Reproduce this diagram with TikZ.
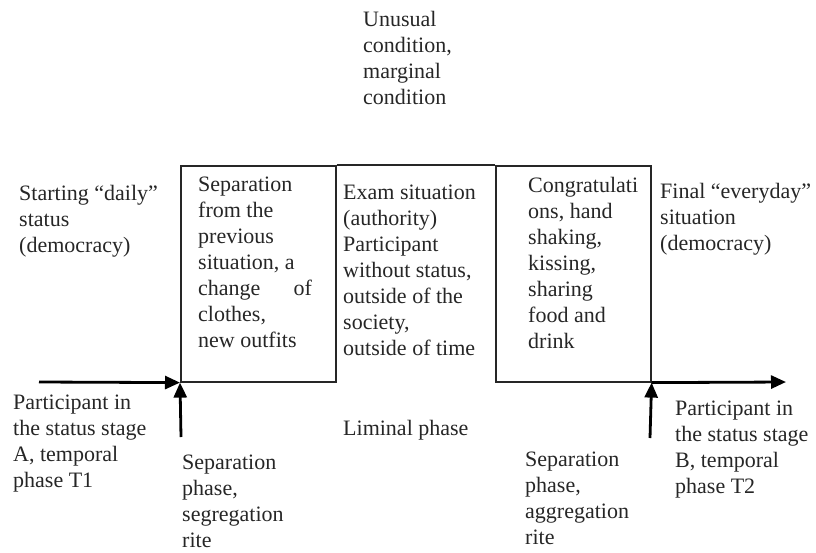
\documentclass[tikz,border=0pt]{standalone}
\usepackage{fontspec}
\setmainfont{Liberation Serif}
\usetikzlibrary{arrows.meta}
\begin{document}
\begin{tikzpicture}[x=1pt,y=-1pt,
  txt/.style={anchor=north west,inner sep=0pt,align=left,text=black!85,
    font=\fontsize{22}{26}\selectfont},
  phasebox/.style={draw=black!85,line width=1.6pt,minimum width=155pt,minimum height=216pt,inner sep=0pt},
  bigarrow/.style={draw=black,line width=2.8pt,-{Triangle[length=15pt,width=13pt]}}]
\useasboundingbox (0,0) rectangle (816,552);
% boxes
\node[phasebox,anchor=north west] (b1) at (180,165) {};
\node[phasebox,anchor=north west] (b3) at (495,165) {};
\draw[black!85,line width=1.6pt] (b1.north east) -- (b3.north west);
% arrow ends
\coordinate (lstart) at (39,382);
\coordinate (rend) at (786,382);
\coordinate (lbot) at (181,437);
\coordinate (rbot) at (650,438);
\draw[bigarrow] (lstart) -- (b1.south west);
\draw[bigarrow] (lbot) -- (b1.south west);
\draw[bigarrow] (b3.south east) -- (rend);
\draw[bigarrow] (rbot) -- (b3.south east);
% texts
\node[txt] (unus) at (363,11) {Unusual\\condition,\\marginal\\condition};
\node[txt] (start) at (19,185) {Starting “daily”\\status\\(democracy)};
\node[txt] (t1) at (198,177) {Separation\\from the\\previous\\situation, a\\change \quad\ of\\clothes,\\new outfits};
\node[txt] (t2) at (343,185) {Exam situation\\(authority)\\Participant\\without status,\\outside of the\\society,\\outside of time};
\node[txt] (t3) at (528,177) {Congratulati\\ons, hand\\shaking,\\kissing,\\sharing\\food and\\drink};
\node[txt] (fin) at (660,183) {Final “everyday”\\situation\\(democracy)};
\node[txt] (pa) at (13,395) {Participant in\\the status stage\\A, temporal\\phase T1};
\node[txt] (sa) at (182,455) {Separation\\phase,\\segregation\\rite};
\node[txt] (lim) at (343,420) {Liminal phase};
\node[txt] (sb) at (525,452) {Separation\\phase,\\aggregation\\rite};
\node[txt] (pb) at (675,401) {Participant in\\the status stage\\B, temporal\\phase T2};
\end{tikzpicture}
\end{document}
